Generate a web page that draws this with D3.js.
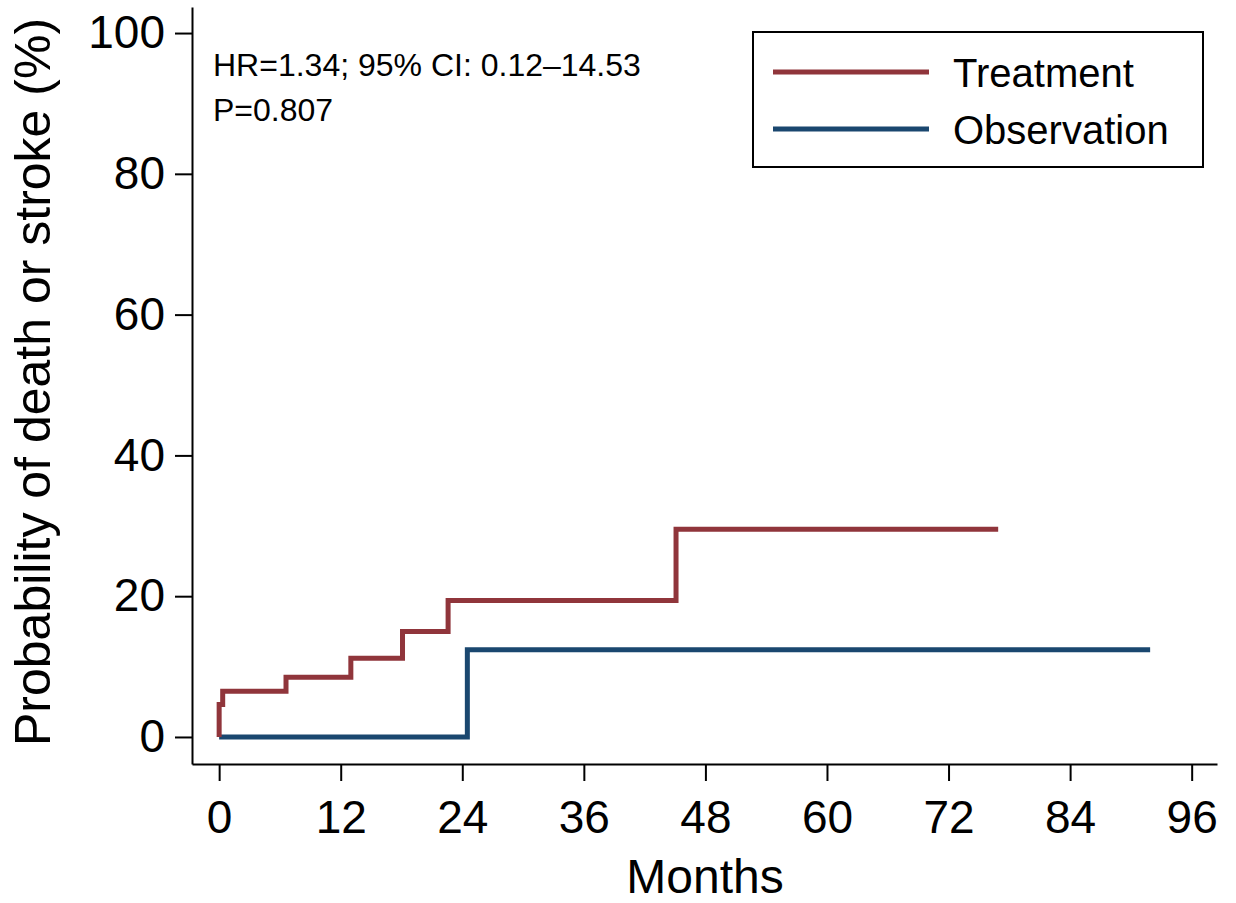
<!DOCTYPE html>
<html>
<head>
<meta charset="utf-8">
<script src="https://cdn.jsdelivr.net/npm/d3@7"></script>
<style>
  body { margin: 0; background: #fff; }
  svg { display: block; font-family: "Liberation Sans", Arial, sans-serif; }
</style>
</head>
<body>
<script>
// Kaplan-Meier style cumulative incidence
const treatmentMonths = [0, 0, 0.35, 6.6, 13.0, 18.1, 22.6, 45.1, 76.9];
const treatmentPct    = [0, 4.6, 6.5, 8.5, 11.2, 15.0, 19.4, 29.5, 29.5];
const observationMonths = [0, 24.5, 91.9];
const observationPct    = [0, 12.4, 12.4];

const xTicks = [0, 12, 24, 36, 48, 60, 72, 84, 96];
const yTicks = [0, 20, 40, 60, 80, 100];

const seriesNames = ["Treatment", "Observation"];
const seriesColors = ["#90353b", "#1a476f"];
const statsLines = ["HR=1.34; 95% CI: 0.12\u201314.53", "P=0.807"];

const width = 1236, height = 903;

const x = d3.scaleLinear().domain([-2.68, 98.5]).range([192, 1217]);
const y = d3.scaleLinear().domain([-3.84, 103.7]).range([764, 7]);

const svg = d3.select("body").append("svg")
    .attr("width", width)
    .attr("height", height);

svg.append("g")
    .attr("transform", `translate(0,${y.range()[0]})`)
    .call(d3.axisBottom(x).tickValues(xTicks).tickSize(17).tickSizeOuter(0).tickPadding(19))
    .call(g => g.select(".domain").attr("stroke-width", 2))
    .call(g => g.selectAll(".tick line").attr("stroke-width", 2))
    .call(g => g.selectAll("text").attr("font-size", 46).attr("fill", "#000"));

svg.append("g")
    .attr("transform", `translate(${x.range()[0]},0)`)
    .call(d3.axisLeft(y).tickValues(yTicks).tickSize(17).tickSizeOuter(0).tickPadding(10))
    .call(g => g.select(".domain").attr("stroke-width", 2))
    .call(g => g.selectAll(".tick line").attr("stroke-width", 2))
    .call(g => g.selectAll("text").attr("font-size", 46).attr("fill", "#000"));

const line = d3.line()
    .x(d => x(d[0]))
    .y(d => y(d[1]))
    .curve(d3.curveStepAfter);

const series = [
  d3.zip(treatmentMonths, treatmentPct),
  d3.zip(observationMonths, observationPct)
];

svg.append("g")
  .selectAll("path")
  .data([series[1], series[0]])
  .join("path")
    .attr("fill", "none")
    .attr("stroke", (d, i) => seriesColors[1 - i])
    .attr("stroke-width", 5)
    .attr("d", line);

// axis titles
svg.append("text")
    .attr("x", 705)
    .attr("y", 893)
    .attr("text-anchor", "middle")
    .attr("font-size", 48)
    .text("Months");

svg.append("text")
    .attr("transform", "translate(50,382) rotate(-90)")
    .attr("text-anchor", "middle")
    .attr("font-size", 50)
    .text("Probability of death or stroke (%)");

// stats text
svg.append("g")
  .selectAll("text")
  .data(statsLines)
  .join("text")
    .attr("x", 213)
    .attr("y", (d, i) => 76 + i * 45)
    .attr("font-size", 32)
    .text(d => d);

// legend
const legend = svg.append("g");
legend.append("rect")
    .attr("x", 753).attr("y", 32)
    .attr("width", 450).attr("height", 135)
    .attr("fill", "#fff")
    .attr("stroke", "#000")
    .attr("stroke-width", 2);

const item = legend.selectAll("g.item")
  .data(seriesNames)
  .join("g")
    .attr("class", "item")
    .attr("transform", (d, i) => `translate(0,${72 + i * 57})`);

item.append("line")
    .attr("x1", 773).attr("x2", 929)
    .attr("stroke", (d, i) => seriesColors[i])
    .attr("stroke-width", 5);

item.append("text")
    .attr("x", 953)
    .attr("y", 15)
    .attr("font-size", 40)
    .text(d => d);
</script>
</body>
</html>
